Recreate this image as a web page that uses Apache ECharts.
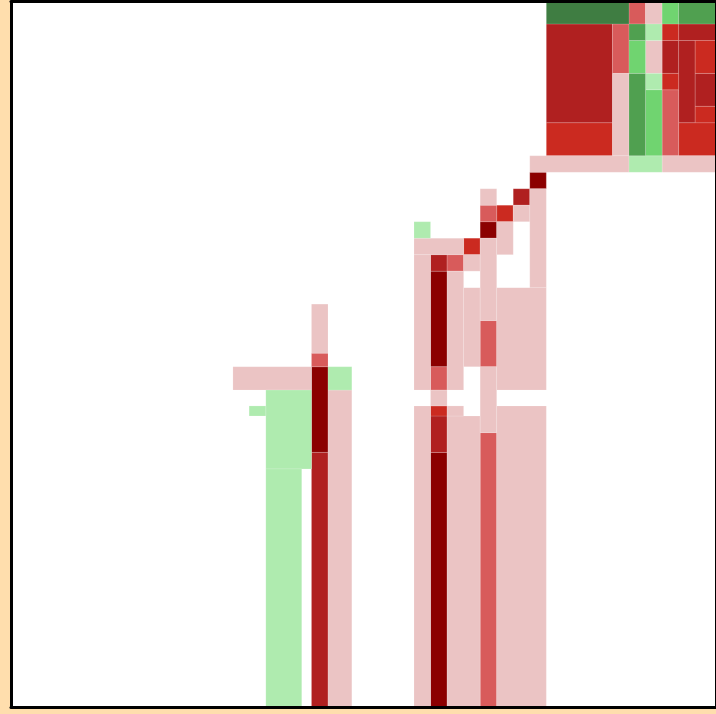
<!DOCTYPE html>
<html>
<head>
<meta charset="utf-8">
<script src="https://cdn.jsdelivr.net/npm/echarts@6/dist/echarts.min.js"></script>
<style>
html,body{margin:0;padding:0;background:#FFDEAD;}
#chart{width:716px;height:714px;}
</style>
</head>
<body>
<div id="chart"></div>
<script>
// Each cell: [xStart, xEnd, yStart, yEnd] in grid units (y grows downward)
const darkRedCells = [
  [31, 32, 10, 11],
  [28, 29, 13, 14],
  [25, 26, 16, 21.8],
  [25, 26, 27, 43],
  [17.8, 18.8, 21.8, 27]
];
const fireBrickCells = [
  [32, 36, 1, 7],
  [39, 40, 2, 4],
  [40, 43, 1, 2],
  [40, 41, 2, 7],
  [41, 43, 4, 6],
  [30, 31, 11, 12],
  [25, 26, 15, 16],
  [25, 26, 24.79, 27],
  [17.8, 18.8, 27, 43]
];
const redCells = [
  [32, 36, 7, 9],
  [39, 40, 1, 2],
  [39, 40, 4, 5],
  [41, 43, 2, 4],
  [41, 43, 6, 7],
  [40, 43, 7, 9],
  [29, 30, 12, 13],
  [27, 28, 14, 15],
  [25, 26, 24.18, 24.79]
];
const indianRedCells = [
  [37, 38, -1, 1],
  [36, 37, 1, 4],
  [39, 40, 5, 9],
  [28, 29, 12, 13],
  [26, 27, 15, 16],
  [28, 29, 19, 21.8],
  [28, 29, 25.8, 43],
  [25, 26, 21.8, 23.22],
  [17.8, 18.8, 20.98, 21.8]
];
const pinkCells = [
  [38, 39, -1, 1],
  [36, 37, 4, 9],
  [38, 39, 2, 4],
  [31, 37, 9, 10],
  [39, 43, 9, 10],
  [24, 27, 14, 15],
  [24, 25, 15, 23.22],
  [24, 25, 24.18, 43],
  [25, 26, 23.22, 24.18],
  [26, 27, 16, 23.22],
  [26, 28, 24.79, 43],
  [26, 27, 24.18, 24.79],
  [27, 28, 15, 16],
  [27, 28, 17, 21.8],
  [28, 29, 11, 12],
  [28, 29, 14, 19],
  [28, 29, 21.8, 25.8],
  [29, 30, 13, 15],
  [29, 32, 17, 23.22],
  [29, 32, 24.18, 43],
  [30, 31, 12, 13],
  [31, 32, 11, 17]
];
const leftPinkCells = [
  [17.8, 18.8, 18, 20.98],
  [13.05, 17.8, 21.8, 23.22],
  [18.8, 20.24, 23.22, 43]
];
const paleGreenCells = [
  [38, 39, 1, 2],
  [38, 39, 4, 5],
  [37, 39, 9, 10],
  [24, 25, 13, 14],
  [18.8, 20.24, 21.8, 23.22],
  [15.04, 17.8, 23.22, 28],
  [15.04, 17.21, 28, 43],
  [14.03, 15.04, 24.18, 24.79]
];
const lightGreenCells = [
  [39, 40, -1, 1],
  [37, 38, 2, 4],
  [38, 39, 5, 9]
];
const midGreenCells = [
  [40, 43, -1, 1],
  [37, 38, 1, 2],
  [37, 38, 4, 9]
];
const darkGreenCells = [
  [32, 37, -1, 1]
];

const groups = [
  {name: 'darkred', data: darkRedCells, color: '#8B0000'},
  {name: 'firebrick', data: fireBrickCells, color: '#B02020'},
  {name: 'red', data: redCells, color: '#CB2A20'},
  {name: 'indianred', data: indianRedCells, color: '#D85B5B'},
  {name: 'pink', data: pinkCells, color: '#EBC4C4'},
  {name: 'pink2', data: leftPinkCells, color: '#EBC4C4'},
  {name: 'palegreen', data: paleGreenCells, color: '#AFEBAF'},
  {name: 'lightgreen', data: lightGreenCells, color: '#70D470'},
  {name: 'midgreen', data: midGreenCells, color: '#50A050'},
  {name: 'darkgreen', data: darkGreenCells, color: '#3F7D42'}
];

function makeRender(color) {
  return function (params, api) {
    const p0 = api.coord([api.value(0), api.value(2)]);
    const p1 = api.coord([api.value(1), api.value(3)]);
    const cs = params.coordSys;
    const shape = echarts.graphic.clipRectByRect({
      x: Math.min(p0[0], p1[0]),
      y: Math.min(p0[1], p1[1]),
      width: Math.abs(p1[0] - p0[0]),
      height: Math.abs(p1[1] - p0[1])
    }, {x: cs.x, y: cs.y, width: cs.width, height: cs.height});
    if (!shape) return null;
    return {
      type: 'rect',
      shape: shape,
      style: {fill: color, stroke: 'rgba(255,255,255,0.15)', lineWidth: 1}
    };
  };
}

const axisCommon = {
  type: 'value',
  axisTick: {show: false},
  axisLabel: {show: false},
  splitLine: {show: false},
  axisLine: {show: true, onZero: false, lineStyle: {color: '#000', width: 3}},
  z: 10
};
const X_MIN = -0.369, X_MAX = 42.26, Y_MIN = -0.364, Y_MAX = 42.45;

const chart = echarts.init(document.getElementById('chart'));
chart.setOption({
  backgroundColor: '#FFDEAD',
  animation: false,
  grid: {left: 11, top: 1.5, width: 705.5, height: 705.5, show: true, backgroundColor: '#fff', borderWidth: 0},
  xAxis: [
    Object.assign({}, axisCommon, {position: 'bottom', min: X_MIN, max: X_MAX}),
    Object.assign({}, axisCommon, {position: 'top', min: X_MIN, max: X_MAX})
  ],
  yAxis: [
    Object.assign({}, axisCommon, {position: 'left', inverse: true, min: Y_MIN, max: Y_MAX}),
    Object.assign({}, axisCommon, {position: 'right', inverse: true, min: Y_MIN, max: Y_MAX})
  ],
  series: groups.map(g => ({
    type: 'custom',
    name: g.name,
    xAxisIndex: 0,
    yAxisIndex: 0,
    renderItem: makeRender(g.color),
    encode: {x: [0, 1], y: [2, 3]},
    data: g.data
  }))
});
</script>
</body>
</html>
